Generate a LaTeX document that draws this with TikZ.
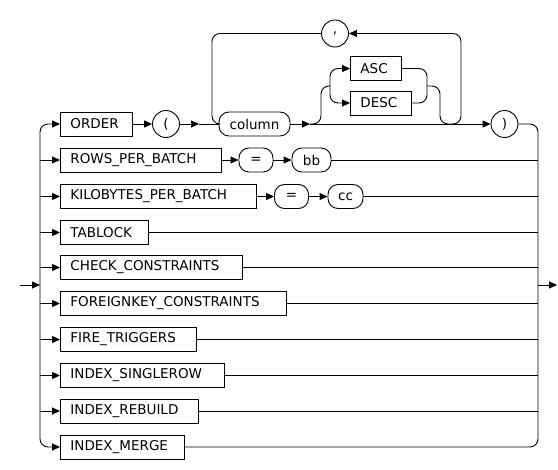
\documentclass[tikz,border=0pt]{standalone}
\usepackage{fontspec}
\newfontfamily\railfont{DejaVu Sans}
\usetikzlibrary{arrows.meta}

\begin{document}
\begin{tikzpicture}[x=1pt, y=-1pt, line width=0.9pt, font=\railfont\fontsize{13.5}{15}\selectfont, >={Triangle[length=8pt,width=7pt]},
box/.style={draw, anchor=west, minimum height=24pt, inner ysep=0pt, inner xsep=10pt, align=left},
term/.style={draw, rounded corners=10pt, minimum height=24pt, inner sep=0pt},
punct/.style={draw, circle, minimum size=27pt, inner sep=0pt},
rail/.style={rounded corners=8pt}]
\useasboundingbox (0,0) rectangle (558,470);
% options
\node[box, text width=52pt] (order) at (60,124) {ORDER};
\node[box, text width=141pt] (rows) at (60,160) {ROWS\_PER\_BATCH};
\node[box, text width=176pt] (kilo) at (60,196.5) {KILOBYTES\_PER\_BATCH};
\node[box, text width=68pt] (tablock) at (60,232.5) {TABLOCK};
\node[box, text width=162pt] (check) at (60,267.5) {CHECK\_CONSTRAINTS};
\node[box, text width=206pt] (foreign) at (60,303.5) {FOREIGNKEY\_CONSTRAINTS};
\node[box, text width=116pt] (fire) at (60,339.5) {FIRE\_TRIGGERS};
\node[box, text width=144pt] (single) at (60,375.5) {INDEX\_SINGLEROW};
\node[box, text width=118pt] (rebuild) at (60,411) {INDEX\_REBUILD};
\node[box, text width=104pt] (merge) at (60,447) {INDEX\_MERGE};
% ORDER ( column [ASC|DESC] , ... )
\node[punct] (lpar) at (166,124) {(};
\node[term, minimum width=71pt] (column) at (254.5,124) {column};
\node[box, text width=31pt] (asc) at (350,68.5) {ASC};
\node[box, text width=41pt] (desc) at (350,103) {DESC};
\node[punct] (comma) at (335,33.5) {,};
\node[punct] (rpar) at (504.5,124) {)};
\node[term, minimum width=34pt] (eqrows) at (256,160) {=};
\node[term, minimum width=39pt] (bb) at (311.5,160) {bb};
\node[term, minimum width=34pt] (eqkilo) at (291.5,196.5) {=};
\node[term, minimum width=35pt] (cc) at (345.5,196.5) {cc};
\coordinate (entry) at (20,285); \coordinate (split) at (40,285); \coordinate (join) at (538,285); \coordinate (exit) at (557,285);
\coordinate (a1) at (199,124); \coordinate (a2) at (310,124); \coordinate (optin) at (330,86); \coordinate (optout) at (427,86); \coordinate (loopstart) at (452,124);
% rails
\draw[->] (entry) -- (split); \draw[->, rail] (split) |- (order.west); \draw[->, rail] (split) |- (merge.west);
\foreach \n in {rows,kilo,tablock,check,foreign,fire,single,rebuild} \draw[->] (split |- \n.west) -- (\n.west);
\foreach \n in {bb,cc,tablock,check,foreign,fire,single,rebuild} \draw (\n.east) -- (join |- \n.east);
\draw[rail] (rpar.east) -| (join); \draw[rail] (merge.east) -| (join); \draw[->] (join) -- (exit);
\draw[->] (rows) -- (eqrows); \draw[->] (eqrows) -- (bb); \draw[->] (kilo) -- (eqkilo); \draw[->] (eqkilo) -- (cc);
\draw[->] (order) -- (lpar); \draw[->] (lpar) -- (a1); \draw (a1) -- (column); \draw[->] (column) -- (a2); \draw[->] (a2) -- (rpar);
\draw[rail] (a2) -| (321,86) -- (optin); \draw[->, rail] (optin) |- (asc.west); \draw[->, rail] (optin) |- (desc.west);
\draw[rail] (asc.east) -| (optout); \draw[rail] (desc.east) -| (optout); \draw[rail] (optout) -| (440,124) -- (loopstart);
\draw[->, rail] (loopstart) -| (461,33.5) -- (comma.east); \draw[rail] (comma.west) -| (212,124) -- (column.west);
\end{tikzpicture}
\end{document}
